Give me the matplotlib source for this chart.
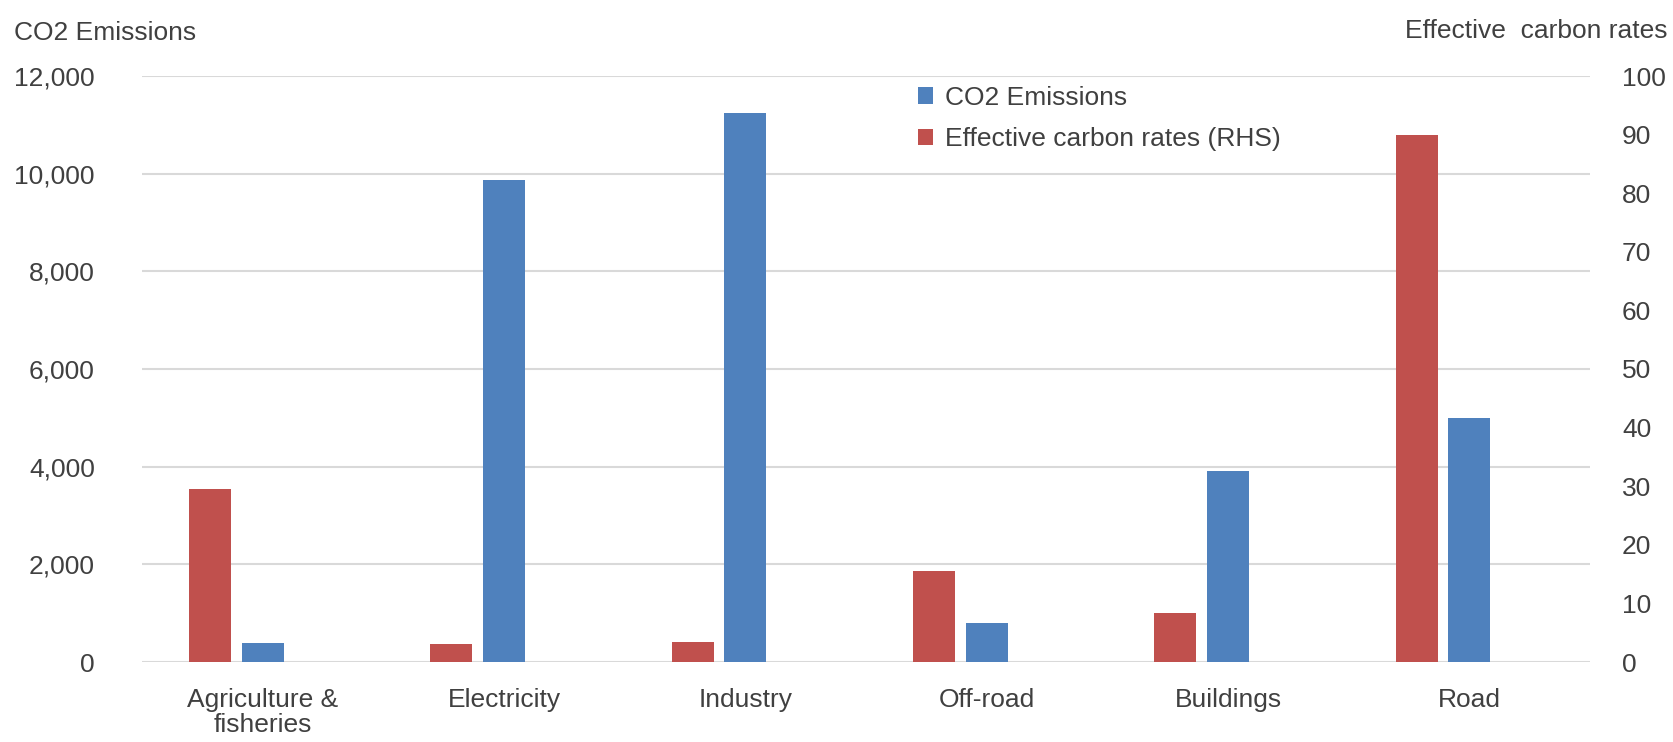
import matplotlib
matplotlib.use("Agg")
import matplotlib.pyplot as plt
import numpy as np

categories = ["Agriculture &\nfisheries", "Electricity", "Industry", "Off-road", "Buildings", "Road"]
co2_emissions = [390, 9880, 11250, 800, 3920, 5000]
effective_rates = [29.6, 3.0, 3.4, 15.5, 8.3, 90.0]
left_ticks = [0, 2000, 4000, 6000, 8000, 10000, 12000]
right_ticks = list(range(0, 101, 10))

plt.rcParams['font.family'] = ['Liberation Sans', 'DejaVu Sans']

blue = "#4F81BD"
red = "#C0504D"
txt = "#404040"
fs = 19

fig = plt.figure(figsize=(16.74, 7.42), dpi=100)
ax = fig.add_axes([142/1674, 1-662/742, (1590-142)/1674, (662-76)/742])
ax2 = ax.twinx()

x = np.arange(len(categories))
w = 0.174
b_blue = ax.bar(x, co2_emissions, width=w, color=blue, zorder=3, label="CO2 Emissions")
b_red = ax2.bar(x - 0.218, effective_rates, width=w, color=red, zorder=3,
                label="Effective carbon rates (RHS)")

ax.set_xlim(-0.5, len(categories) - 0.5)
ax.set_ylim(0, 12000)
ax2.set_ylim(0, 100)
ax.set_yticks(left_ticks)
ax.set_yticklabels([f"{v:,}" for v in left_ticks])
ax2.set_yticks(right_ticks)
ax2.set_yticklabels([str(v) for v in right_ticks])
ax.set_xticks(x)
ax.set_xticklabels(categories)

ax.grid(axis='y', color="#D9D9D9", linewidth=1.5, zorder=0)
ax.set_axisbelow(True)
for a in (ax, ax2):
    for s in a.spines.values():
        s.set_visible(False)
    a.tick_params(length=0, labelsize=fs, labelcolor=txt)
ax.tick_params(axis='y', pad=34)
ax.tick_params(axis='x', pad=19)
ax2.tick_params(axis='y', pad=23)
for lab in ax.get_xticklabels():
    lab.set_linespacing(1.05)

fig.text(14/1674, 1-33/742, "CO2 Emissions", ha='left', va='center', fontsize=fs, color=txt)
fig.text(1668/1674, 1-31/742, "Effective  carbon rates", ha='right', va='center', fontsize=fs, color=txt)

leg = fig.legend(handles=[b_blue, b_red], labels=["CO2 Emissions", "Effective carbon rates (RHS)"],
                 loc='upper left', bbox_to_anchor=(918/1674, 1-86/742), frameon=False,
                 fontsize=fs, handlelength=0.58, handleheight=0.58, handletextpad=0.45,
                 labelspacing=0.65, borderpad=0, borderaxespad=0)
for t in leg.get_texts():
    t.set_color(txt)

fig.savefig("out.png", dpi=100, facecolor="white")
